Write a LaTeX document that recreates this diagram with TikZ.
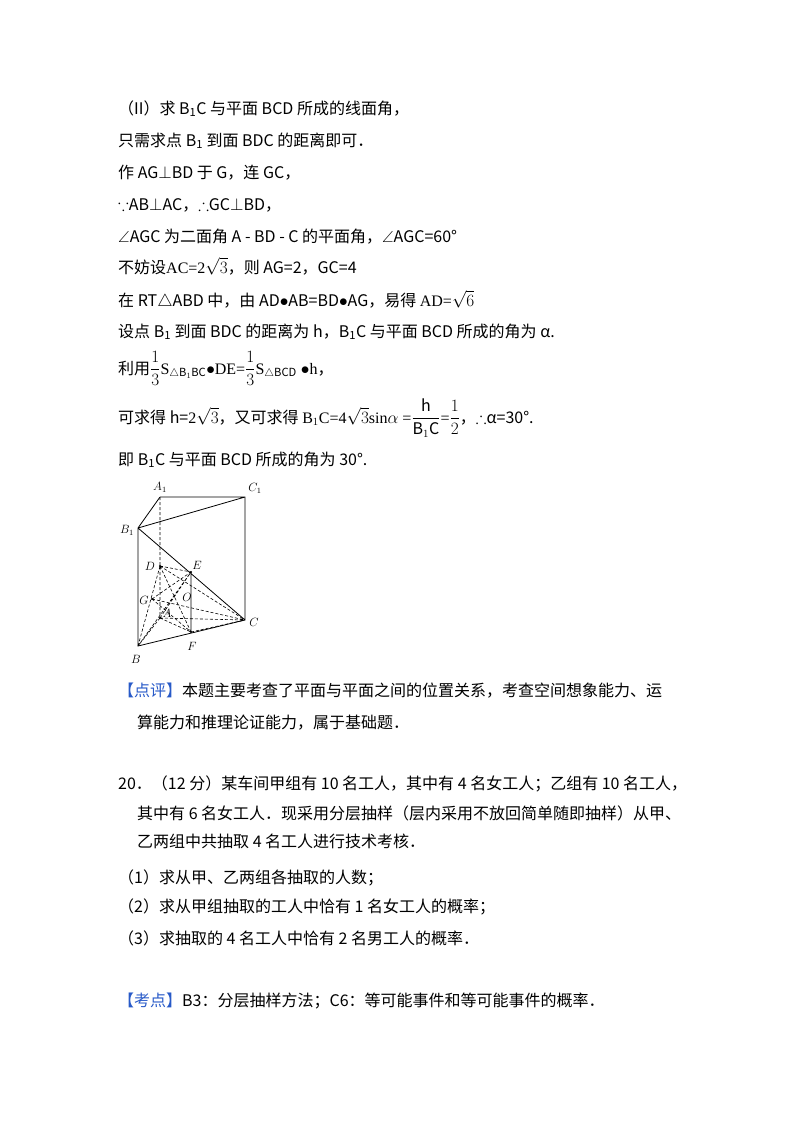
\documentclass[tikz,border=0pt]{standalone}
\usepackage{fontspec}
\setmainfont{Noto Sans CJK SC}
\newfontfamily\lab{Liberation Serif}
\usepackage{amssymb}
\definecolor{kb}{RGB}{40,90,200}
\begin{document}
\begin{tikzpicture}[x=1pt,y=-1pt,
 tx/.style={anchor=base west,inner sep=0pt,font=\fontsize{16}{19}\selectfont},
 lb/.style={inner sep=1pt,font=\lab\itshape\fontsize{12}{12}\selectfont},
 so/.style={line width=0.8pt},
 da/.style={dashed,line width=0.6pt,dash pattern=on 3pt off 2pt}]
\useasboundingbox (0,0) rectangle (800,1132);
\node[tx] (t1) at (118,114) {（II）求 B\textsubscript{1}C 与平面 BCD 所成的线面角，};
\node[tx] (t2) at (118,146) {只需求点 B\textsubscript{1} 到面 BDC 的距离即可．};
\node[tx] (t3) at (118,178) {作 AG$\perp$BD 于 G，连 GC，};
\node[tx] (t4) at (118,210) {$\because$AB$\perp$AC，$\therefore$GC$\perp$BD，};
\node[tx] (t5) at (118,242) {$\angle$AGC 为二面角 A - BD - C 的平面角，$\angle$AGC=60°};
\node[tx] (t6) at (118,273) {不妨设{\lab AC=2$\sqrt{3}$}，则 AG=2，GC=4};
\node[tx] (t7) at (118,306) {在 RT$\triangle$ABD 中，由 AD$\bullet$AB=BD$\bullet$AG，易得 {\lab AD=$\sqrt{6}$}};
\node[tx] (t8) at (118,337) {设点 B\textsubscript{1} 到面 BDC 的距离为 h，B\textsubscript{1}C 与平面 BCD 所成的角为 α.};
\node[tx] (t9) at (118,374) {利用{\lab $\displaystyle\frac{1}{3}$S$_{\triangle \mathrm{B}_1\mathrm{BC}}$$\bullet$DE=$\displaystyle\frac{1}{3}$S$_{\triangle \mathrm{BCD}}$ $\bullet$h}，};
\node[tx] (t10) at (118,423) {可求得 h={\lab 2$\sqrt{3}$}，又可求得 {\lab B$_1$C=4$\sqrt{3}$sin$\alpha$ =$\displaystyle\frac{\mathrm{h}}{\mathrm{B}_1\mathrm{C}}$=$\displaystyle\frac{1}{2}$}，$\therefore$α=30°.};
\node[tx] (t11) at (118,465) {即 B\textsubscript{1}C 与平面 BCD 所成的角为 30°.};
% figure
\coordinate (A1) at (160,497); \coordinate (C1) at (245,497);
\coordinate (B1) at (138,528); \coordinate (B) at (138,646);
\coordinate (C) at (245,620); \coordinate (A) at (160,618);
\coordinate (D) at (160,566); \coordinate (E) at (191,572);
\coordinate (G) at (152,599); \coordinate (F) at (191,632);
\draw[so] (A1)--(C1)--(C)--(B)--(B1)--(A1) (B1)--(C1) (B1)--(C) (E)--(F);
\draw[da] (A1)--(A) (D)--(E) (D)--(C) (D)--(B) (D)--(F) (G)--(C) (A)--(C) (A)--(B) (A)--(F) (F)--(C) (B)--(E) (G)--(E) (A)--(E) (G)--(F);
\foreach \p in {D,E,G,F,A} \fill (\p) circle (1.1pt);
\node[lb] (lA1) at (160,487) {$A_1$}; \node[lb] (lC1) at (255,488) {$C_1$};
\node[lb] (lB1) at (127,530) {$B_1$}; \node[lb] (lB) at (136,659) {$B$};
\node[lb] (lC) at (254,622) {$C$}; \node[lb] (lD) at (150,566) {$D$};
\node[lb] (lE) at (197,565) {$E$}; \node[lb] (lG) at (144,600) {$G$};
\node[lb] (lA) at (167,613) {$A$}; \node[lb] (lO) at (187,597) {$O$};
\node[lb] (lF) at (192,646) {$F$};
% bottom text
\node[tx] (p1) at (118,696) {{\color{kb}【点评】}本题主要考查了平面与平面之间的位置关系，考查空间想象能力、运};
\node[tx] (p2) at (137,728) {算能力和推理论证能力，属于基础题．};
\node[tx] (q1) at (118,789) {20．（12 分）某车间甲组有 10 名工人，其中有 4 名女工人；乙组有 10 名工人，};
\node[tx] (q2) at (137,819) {其中有 6 名女工人．现采用分层抽样（层内采用不放回简单随即抽样）从甲、};
\node[tx] (q3) at (137,847) {乙两组中共抽取 4 名工人进行技术考核．};
\node[tx] (q4) at (118,883) {（1）求从甲、乙两组各抽取的人数；};
\node[tx] (q5) at (118,912) {（2）求从甲组抽取的工人中恰有 1 名女工人的概率；};
\node[tx] (q6) at (118,944) {（3）求抽取的 4 名工人中恰有 2 名男工人的概率．};
\node[tx] (k1) at (118,1006) {{\color{kb}【考点】}B3：分层抽样方法；C6：等可能事件和等可能事件的概率．};
\end{tikzpicture}
\end{document}
